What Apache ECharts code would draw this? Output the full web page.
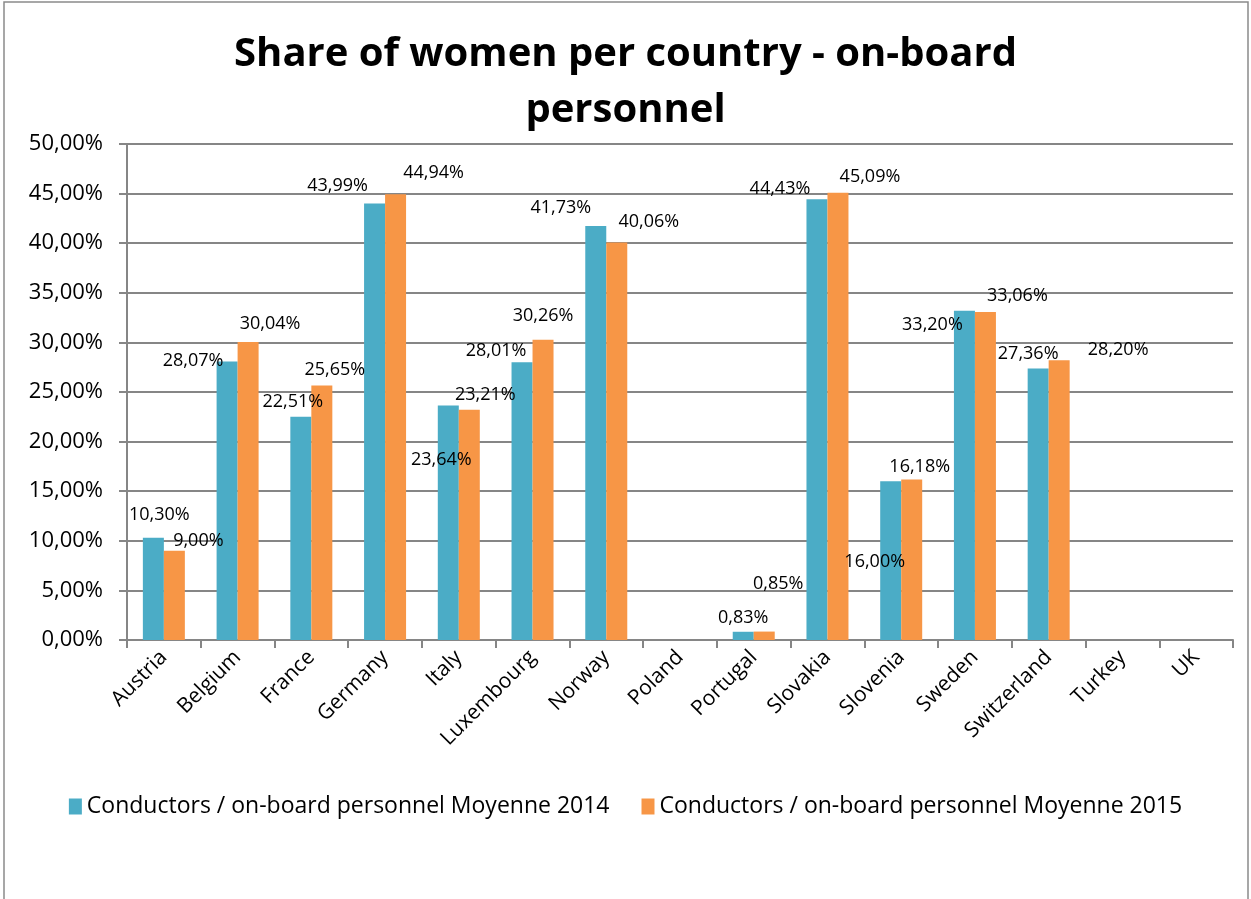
<!DOCTYPE html>
<html>
<head>
<meta charset="utf-8">
<script src="https://cdn.jsdelivr.net/npm/echarts@6/dist/echarts.min.js"></script>
<style>
  html, body { margin: 0; padding: 0; background: #fff; }
  #chart { width: 1251px; height: 899px; }
</style>
</head>
<body>
<div id="chart"></div>
<script>
var countries = ['Austria', 'Belgium', 'France', 'Germany', 'Italy', 'Luxembourg', 'Norway', 'Poland',
  'Portugal', 'Slovakia', 'Slovenia', 'Sweden', 'Switzerland', 'Turkey', 'UK'];
var seriesNames = ['Conductors / on-board personnel Moyenne 2014', 'Conductors / on-board personnel Moyenne 2015'];
var values2014 = [10.30, 28.07, 22.51, 43.99, 23.64, 28.01, 41.73, null, 0.83, 44.43, 16.00, 33.20, 27.36, null, null];
var values2015 = [9.00, 30.04, 25.65, 44.94, 23.21, 30.26, 40.06, null, 0.85, 45.09, 16.18, 33.06, 28.20, null, null];

// label shifts as in the original (Excel placed them loosely)
var shift2014 = [[6, -14], [-34, 8], [-8, -6], [-37, -9], [-7, 63], [-26, -2], [-35, -9], null,
  [0, -5], [-37, -1], [-16, 90], [-32, 23], [-10, -6], null, null];
var shift2015 = [[24, -1], [22, -9], [13, -7], [38, -12], [16, -6], [0, -15], [32, -12], null,
  [14, -39], [32, -7], [8, -4], [32, -7], [59, -1], null, null];

var font = '"Open Sans", sans-serif';

function pct(v) {
  return v.toFixed(2).replace('.', ',') + '%';
}

function buildData(values, shifts) {
  var out = [];
  for (var i = 0; i < values.length; ++i) {
    var item = { value: values[i] };
    if (shifts[i]) item.label = { offset: shifts[i] };
    out.push(item);
  }
  return out;
}

var barLabel = {
  show: true,
  position: 'top',
  distance: 0,
  fontFamily: font,
  fontSize: 18,
  lineHeight: 18,
  color: '#000',
  formatter: function (p) { return p.value == null ? '' : pct(p.value); }
};

var chart = echarts.init(document.getElementById('chart'));

var option = {
  backgroundColor: '#fff',
  animation: false,
  title: {
    text: 'Share of women per country - on-board\npersonnel',
    left: 'center',
    top: 22,
    textStyle: {
      fontFamily: font,
      fontWeight: 'bold',
      fontSize: 40,
      lineHeight: 56,
      color: '#000'
    }
  },
  legend: {
    bottom: 76,
    left: 'center',
    itemWidth: 13,
    itemHeight: 16,
    itemGap: 32,
    icon: 'rect',
    textStyle: { fontFamily: font, fontSize: 23, color: '#000' },
    data: seriesNames
  },
  graphic: [{
    type: 'rect',
    shape: { x: 4, y: 2, width: 1244, height: 920 },
    style: { fill: null, stroke: '#8a8a8a', lineWidth: 1.5 },
    silent: true
  }],
  grid: { left: 127, right: 18, top: 144, bottom: 259 },
  xAxis: {
    type: 'category',
    data: countries,
    axisLine: { lineStyle: { color: '#868686', width: 2 } },
    axisTick: { show: true, length: 8, lineStyle: { color: '#868686', width: 2 } },
    axisLabel: {
      rotate: 45,
      margin: 14,
      fontFamily: font,
      fontSize: 21,
      color: '#000'
    }
  },
  yAxis: {
    type: 'value',
    min: 0,
    max: 50,
    interval: 5,
    axisLine: { show: true, lineStyle: { color: '#868686', width: 2 } },
    axisTick: { show: true, length: 8, lineStyle: { color: '#868686', width: 2 } },
    splitLine: { lineStyle: { color: '#868686', width: 2 } },
    axisLabel: {
      margin: 24,
      fontFamily: font,
      fontSize: 22,
      color: '#000',
      formatter: function (v) { return pct(v); }
    }
  },
  series: [
    {
      name: seriesNames[0],
      type: 'bar',
      barWidth: 21,
      barGap: '0%',
      itemStyle: { color: '#4BACC6' },
      label: barLabel,
      data: buildData(values2014, shift2014)
    },
    {
      name: seriesNames[1],
      type: 'bar',
      barWidth: 21,
      barGap: '0%',
      itemStyle: { color: '#F79646' },
      label: barLabel,
      data: buildData(values2015, shift2015)
    }
  ]
};

chart.setOption(option);

window.addEventListener('resize', function () {
  chart.resize();
});
</script>
</body>
</html>
